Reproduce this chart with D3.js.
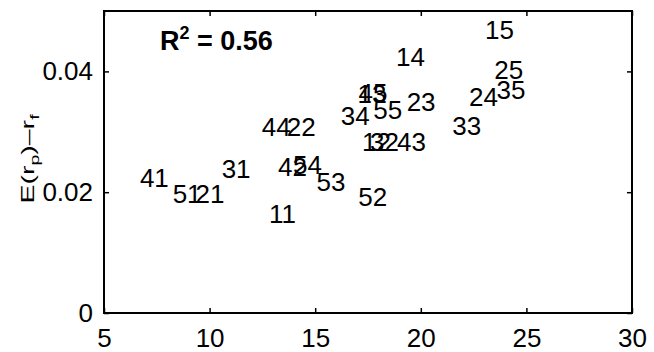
<!DOCTYPE html>
<html>
<head>
<meta charset="utf-8">
<script src="https://cdn.jsdelivr.net/npm/d3@7"></script>
<style>
	html, body { margin: 0; padding: 0; background: #fff; }
	svg text { font-family: 'Liberation Sans', Arial, sans-serif; fill: #000; }
</style>
</head>
<body>
<div id="chart"></div>
<script>
/* global d3 */

// Portfolio labels and their (beta-like x, excess return y) positions.
const labels = [
	'11', '12', '13', '14', '15',
	'21', '22', '23', '24', '25',
	'31', '32', '33', '34', '35',
	'41', '42', '43', '44', '45',
	'51', '52', '53', '54', '55',
];
const xValues = [
	12.81, 17.22, 17.0, 18.83, 23.04,
	9.33, 13.65, 19.33, 22.28, 23.48,
	10.57, 17.6, 21.49, 16.21, 23.59,
	6.70, 13.24, 18.87, 12.47, 17.05,
	8.25, 17.04, 15.06, 13.95, 17.75,
];
const yValues = [
	0.0164, 0.0284, 0.0363, 0.0424, 0.0468,
	0.0198, 0.0308, 0.0349, 0.0358, 0.0402,
	0.0239, 0.0284, 0.0309, 0.0326, 0.0370,
	0.0223, 0.0242, 0.0283, 0.0308, 0.0364,
	0.0198, 0.0193, 0.0217, 0.0245, 0.0336,
];

const xTicks = [ 5, 10, 15, 20, 25, 30 ];
const yTicks = [ 0, 0.02, 0.04 ];
const yTickLabels = [ '0', '0.02', '0.04' ];

const rSquared = '0.56';

const width = 654;
const height = 352;
const margin = { top: 11, right: 22, bottom: 39, left: 104 };

const svg = d3.select( '#chart' )
	.append( 'svg' )
	.attr( 'width', width )
	.attr( 'height', height );

const x = d3.scaleLinear()
	.domain( [ 5, 30 ] )
	.range( [ margin.left, width - margin.right ] );

const y = d3.scaleLinear()
	.domain( [ 0, 0.05 ] )
	.range( [ height - margin.bottom, margin.top ] );

// axes, ticks pointing inward like the original
const styleAxis = ( g ) => {
	g.select( '.domain' ).remove();
	g.selectAll( '.tick line' ).attr( 'stroke', '#000' ).attr( 'stroke-width', 1.5 );
	g.selectAll( 'text' ).style( 'font-size', '26px' );
};

svg.append( 'g' )
	.attr( 'transform', `translate(0,${ height - margin.bottom })` )
	.call( d3.axisBottom( x ).tickValues( xTicks ).tickSizeInner( -5 ).tickSizeOuter( 0 ).tickPadding( 16 ) )
	.call( styleAxis );

svg.append( 'g' )
	.attr( 'transform', `translate(0,${ margin.top })` )
	.call( d3.axisTop( x ).tickValues( xTicks ).tickSizeInner( -5 ).tickSizeOuter( 0 ).tickFormat( '' ) )
	.call( styleAxis );

svg.append( 'g' )
	.attr( 'transform', `translate(${ margin.left },0)` )
	.call( d3.axisLeft( y ).tickValues( yTicks ).tickSizeInner( -5 ).tickSizeOuter( 0 ).tickPadding( 11 )
		.tickFormat( ( d, i ) => yTickLabels[ i ] ) )
	.call( styleAxis );

svg.append( 'g' )
	.attr( 'transform', `translate(${ width - margin.right },0)` )
	.call( d3.axisRight( y ).tickValues( yTicks ).tickSizeInner( -5 ).tickSizeOuter( 0 ).tickFormat( '' ) )
	.call( styleAxis );

// box
svg.append( 'rect' )
	.attr( 'x', margin.left )
	.attr( 'y', margin.top )
	.attr( 'width', width - margin.left - margin.right )
	.attr( 'height', height - margin.top - margin.bottom )
	.attr( 'fill', 'none' )
	.attr( 'stroke', '#000' )
	.attr( 'stroke-width', 2 );

// y label: E(r_p)-r_f
const yLabel = svg.append( 'g' )
	.attr( 'transform', `translate(33.5,${ ( margin.top + height - margin.bottom ) / 2 - 3 }) rotate(-90) scale(1.5,1)` )
	.append( 'text' )
	.attr( 'text-anchor', 'middle' )
	.style( 'font-size', '19px' );
yLabel.append( 'tspan' ).text( 'E(r' );
yLabel.append( 'tspan' ).attr( 'dy', 5 ).style( 'font-size', '13px' ).text( 'p' );
yLabel.append( 'tspan' ).attr( 'dy', -5 ).text( ')\u2013r' );
yLabel.append( 'tspan' ).attr( 'dy', 5 ).style( 'font-size', '13px' ).text( 'f' );

// point labels, left aligned and vertically centred on the data point
svg.append( 'g' )
	.selectAll( 'text' )
	.data( labels )
	.join( 'text' )
	.attr( 'x', ( d, i ) => x( xValues[ i ] ) )
	.attr( 'y', ( d, i ) => y( yValues[ i ] ) )
	.attr( 'dy', '0.35em' )
	.style( 'font-size', '26px' )
	.text( ( d ) => d );

// R^2 annotation
const r2 = svg.append( 'text' )
	.attr( 'x', x( 7.65 ) )
	.attr( 'y', y( 0.0435 ) )
	.style( 'font-size', '27px' )
	.style( 'font-weight', '700' );
r2.append( 'tspan' ).text( 'R' );
r2.append( 'tspan' ).attr( 'dy', -11 ).style( 'font-size', '18px' ).text( '2' );
r2.append( 'tspan' ).attr( 'dy', 11 ).text( ` = ${ rSquared }` );
</script>
</body>
</html>
